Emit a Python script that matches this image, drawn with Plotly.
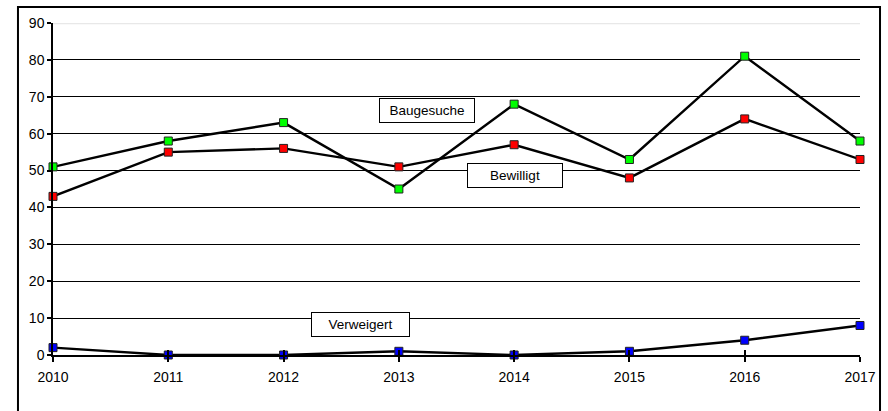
import plotly.graph_objects as go

years = [2010, 2011, 2012, 2013, 2014, 2015, 2016, 2017]
baugesuche = [51, 58, 63, 45, 68, 53, 81, 58]
bewilligt = [43, 55, 56, 51, 57, 48, 64, 53]
verweigert = [2, 0, 0, 1, 0, 1, 4, 8]
y_ticks = [0, 10, 20, 30, 40, 50, 60, 70, 80, 90]

FONT = "Liberation Sans, Arial, sans-serif"

fig = go.Figure()

def add_series(vals, color, name):
    fig.add_trace(go.Scatter(
        x=years, y=vals, mode="lines+markers", name=name,
        line=dict(color="black", width=2.4),
        marker=dict(symbol="square", size=8, color=color,
                    line=dict(color="#222222", width=1)),
        cliponaxis=False, showlegend=False,
    ))

add_series(verweigert, "#0000ff", "Verweigert")
add_series(bewilligt, "#ff0000", "Bewilligt")
add_series(baugesuche, "#00ff00", "Baugesuche")

# light top gridline at 90
fig.add_shape(type="line", xref="x", yref="y", x0=years[0], x1=years[-1],
              y0=y_ticks[-1], y1=y_ticks[-1], line=dict(color="#e8e8e8", width=2.5),
              layer="above")

# outer border
fig.add_shape(type="rect", xref="paper", yref="paper",
              x0=-0.0434, x1=1.0248, y0=-0.2, y1=1.048,
              line=dict(color="black", width=2), layer="below")

ann_style = dict(showarrow=False, bordercolor="black", borderwidth=1,
                 bgcolor="white", font=dict(family=FONT, size=13.5, color="black"),
                 xref="x", yref="y")
fig.add_annotation(x=2013.244, y=66.3, text="Baugesuche", width=92, height=21, **ann_style)
fig.add_annotation(x=2014.007, y=48.66, text="Bewilligt", width=92, height=21, **ann_style)
fig.add_annotation(x=2012.667, y=8.27, text="Verweigert", width=95, height=21, **ann_style)

fig.update_layout(
    width=888, height=411,
    margin=dict(l=53, r=28, t=23, b=56),
    paper_bgcolor="white", plot_bgcolor="white",
    font=dict(family=FONT, size=14, color="black"),
    xaxis=dict(range=[years[0], years[-1]], tickvals=years,
               ticktext=[str(y) for y in years],
               showgrid=False, zeroline=False, showline=True,
               linecolor="black", linewidth=1.5,
               ticks="outside", ticklen=5, tickcolor="black", tickwidth=1.5,
               ticklabelstandoff=3,
               tickfont=dict(family=FONT, size=14, color="black")),
    xaxis2=dict(range=[years[0], years[-1]], tickvals=years, showticklabels=False,
                overlaying="x", anchor="y", side="bottom",
                showgrid=False, zeroline=False, showline=False,
                ticks="inside", ticklen=5, tickcolor="black", tickwidth=1.5),
    yaxis=dict(range=[0, 90], tickvals=y_ticks,
               showgrid=True, gridcolor="black", gridwidth=1.3,
               zeroline=False, showline=True, linecolor="black", linewidth=1.5,
               ticks="outside", ticklen=4, tickcolor="black", tickwidth=1.5,
               tickfont=dict(family=FONT, size=14, color="black")),
)

# dummy trace to activate xaxis2
fig.add_trace(go.Scatter(x=[years[0]], y=[0], xaxis="x2", mode="markers",
                         marker=dict(opacity=0), showlegend=False, hoverinfo="skip"))

fig.write_html("out.html", config={"displayModeBar": False},
               post_script="document.body.style.margin='0';document.body.style.padding='0';")
